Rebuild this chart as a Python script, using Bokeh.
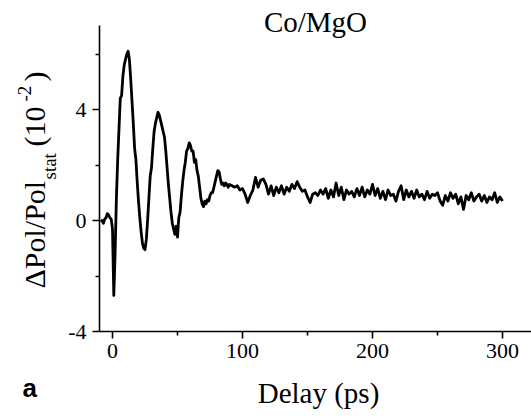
from bokeh.plotting import figure
from bokeh.models import Label, FixedTicker, Range1d
from bokeh.embed import file_html
from bokeh.resources import INLINE

# ---- data ----
# delay grid: 1 ps steps up to 90 ps, 2 ps steps afterwards
delay_early = list(range(-9, 91))
signal_early = [
    -0.05, 0.0, -0.1, 0.05, 0.1, 0.25, 0.2, 0.1, 0.05, -0.3,
    -2.7, -1.2, 0.8, 2.2, 3.3, 4.4, 4.5, 5.2, 5.6, 5.8,
    6.0, 6.1, 5.8, 5.1, 4.3, 3.5, 2.6, 2.2, 1.4, 0.7,
    0.1, -0.4, -0.8, -1.0, -1.05, -0.7, 0.0, 0.8, 1.6, 1.9,
    2.6, 3.2, 3.5, 3.7, 3.9, 3.8, 3.6, 3.4, 3.2, 3.0,
    2.5, 1.9, 1.3, 0.8, 0.3, -0.1, -0.3, -0.5, -0.2, -0.6,
    0.1, 0.3, 0.9, 1.4, 1.8, 2.1, 2.5, 2.6, 2.8, 2.7,
    2.5, 2.5, 2.1, 2.2, 1.8, 1.6, 1.2, 0.8, 0.6, 0.5,
    0.7, 0.6, 0.75, 0.7, 0.9, 1.0, 1.0, 1.2, 1.4, 1.6,
    1.8, 1.75, 1.5, 1.3, 1.35, 1.25, 1.35, 1.3, 1.2, 1.3,
]
delay_tail = list(range(92, 301, 2))
signal_tail = [
    1.25, 1.2, 1.25, 1.1, 1.15, 0.95, 0.65, 0.9, 1.1, 1.55,
    1.2, 1.45, 1.5, 1.3, 0.95, 1.25, 0.9, 1.2, 1.0, 1.25,
    0.95, 1.2, 1.05, 1.3, 1.15, 1.4, 1.2, 1.05, 1.1, 0.85,
    0.65, 0.95, 1.0, 0.9, 1.1, 0.95, 1.15, 0.8, 1.1, 0.85,
    1.35, 0.9, 1.2, 0.75, 1.1, 0.95, 1.05, 0.85, 1.15, 0.9,
    1.2, 0.85, 1.1, 0.95, 1.3, 0.9, 1.15, 0.8, 1.05, 0.75,
    1.1, 0.9, 0.95, 0.7, 1.05, 1.25, 0.75, 1.1, 0.85, 1.05,
    0.8, 1.1, 0.85, 0.95, 0.75, 1.05, 0.8, 0.95, 0.9, 1.0,
    0.7, 0.55, 0.9, 0.7, 1.0, 0.8, 0.95, 0.6, 0.85, 0.4,
    0.9, 0.75, 1.0, 0.7, 0.85, 0.95, 0.7, 0.9, 0.65, 0.85,
    0.75, 1.0, 0.65, 0.85, 0.7,
]
delay_ps = delay_early + delay_tail
delta_pol = signal_early + signal_tail

x_ticks = [0, 100, 200, 300]
x_minor = [50, 150, 250]
y_ticks = [-4, 0, 4]
y_minor = [-2, 2, 6]
y_tick_labels = {-4: "-4", 0: "0", 4: "4"}
x_axis_span = (-10, 322.3)
y_axis_span = (-4, 7.03)

SERIF = "Liberation Serif"
W, H = 531, 419

# frame covers the whole canvas; axes are pinned inside it with fixed_location
p = figure(width=W, height=H, output_backend="svg", toolbar_location=None,
           x_range=Range1d(-86.15, 322.3), y_range=Range1d(-7.171, 7.928),
           min_border=0)
p.outline_line_color = None
p.grid.visible = False
p.background_fill_color = "white"
p.border_fill_color = "white"

p.line(delay_ps, delta_pol, line_color="black", line_width=2.8, line_join="round")

p.xaxis.ticker = FixedTicker(ticks=x_ticks, minor_ticks=x_minor)
p.yaxis.ticker = FixedTicker(ticks=y_ticks, minor_ticks=y_minor)
p.yaxis.major_label_overrides = y_tick_labels
p.xaxis.fixed_location = y_axis_span[0]
p.yaxis.fixed_location = x_axis_span[0]
p.xaxis.bounds = x_axis_span
p.yaxis.bounds = y_axis_span

for ax in (p.xaxis[0], p.yaxis[0]):
    ax.axis_line_color = "black"
    ax.axis_line_width = 1.6
    ax.major_tick_line_color = "black"
    ax.minor_tick_line_color = "black"
    ax.major_tick_line_width = 1.6
    ax.minor_tick_line_width = 1.6
    ax.major_tick_out = 7
    ax.major_tick_in = 0
    ax.minor_tick_out = 4
    ax.minor_tick_in = 0
    ax.major_label_text_font = SERIF
    ax.major_label_text_font_size = "22px"
    ax.major_label_text_color = "black"
p.xaxis.major_label_standoff = 5
p.yaxis.major_label_standoff = 6


def lab(text, cx, cy, size, font=SERIF, align="left", angle=0, style="normal"):
    p.add_layout(Label(x=cx, y=H - cy, x_units="screen", y_units="screen",
                       text=text, text_font=font, text_font_size=size,
                       text_font_style=style, text_color="black",
                       text_align=align, text_baseline="alphabetic",
                       angle=angle, angle_units="deg"))


lab("Co/MgO", 315, 21, "29px", align="center")
lab("Delay (ps)", 318, 392, "29px", align="center")
lab("a", 22, 387, "26px", font="Liberation Sans", style="bold")
lab("\u0394Pol/Pol", 34, 288, "30px", angle=90)
lab("stat", 49, 179, "19px", angle=90)
lab("(10", 34, 146, "30px", angle=90)
lab("-2", 24, 101, "19px", angle=90)
lab(")", 34, 81, "30px", angle=90)

open("out.html", "w").write(file_html(p, INLINE))
